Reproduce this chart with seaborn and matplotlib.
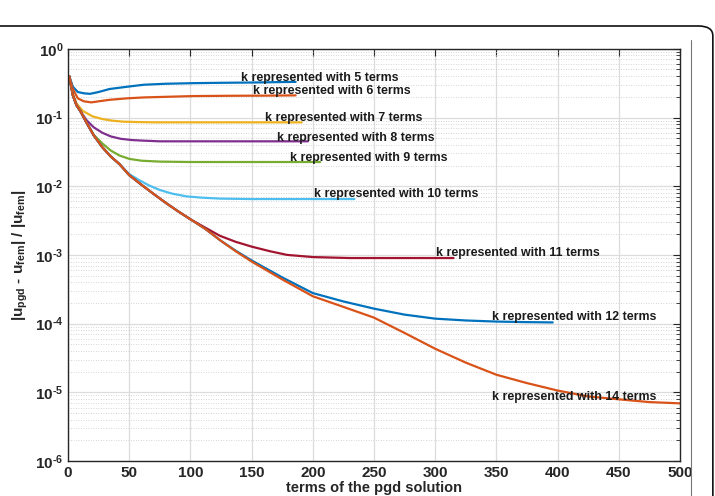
import numpy as np
import pandas as pd
import seaborn as sns
import matplotlib.pyplot as plt
from matplotlib.patches import FancyBboxPatch
from matplotlib.lines import Line2D
import matplotlib.ticker as mticker

# values (x = pgd terms, y = relative error)
x_k5 = [1, 4, 8, 13, 18, 25, 34, 48, 62, 80, 102, 125, 151, 170, 186]
y_k5 = [0.40, 0.28, 0.235, 0.225, 0.221, 0.235, 0.26, 0.28, 0.30, 0.31, 0.316, 0.32, 0.323, 0.327, 0.33]

x_k6 = [1, 4, 8, 13, 19, 25, 34, 48, 62, 80, 102, 130, 160, 186]
y_k6 = [0.40, 0.26, 0.19, 0.172, 0.166, 0.172, 0.181, 0.19, 0.196, 0.2, 0.205, 0.207, 0.208, 0.21]

x_k7 = [1, 4, 7, 12, 20, 28, 36, 45, 55, 70, 90, 120, 160, 191]
y_k7 = [0.40, 0.22, 0.16, 0.125, 0.104, 0.095, 0.09, 0.087, 0.086, 0.085, 0.085, 0.085, 0.085, 0.085]

x_k8 = [1, 4, 7, 10, 15, 21, 28, 35, 43, 52, 62, 75, 100, 140, 196]
y_k8 = [0.40, 0.21, 0.15, 0.125, 0.092, 0.072, 0.06, 0.053, 0.049, 0.047, 0.046, 0.045, 0.045, 0.045, 0.045]

x_k9 = [1, 4, 7, 10, 15, 21, 28, 35, 42, 50, 60, 75, 100, 140, 206]
y_k9 = [0.40, 0.21, 0.15, 0.125, 0.085, 0.056, 0.042, 0.033, 0.028, 0.025, 0.0235, 0.0228, 0.0225, 0.0225, 0.0225]

x_k10 = [1, 4, 7, 10, 15, 21, 28, 35, 42, 50, 58, 66, 75, 85, 97, 110, 124, 150, 190, 234]
y_k10 = [0.40, 0.21, 0.15, 0.125, 0.085, 0.055, 0.037, 0.027, 0.021, 0.015, 0.0123, 0.0103, 0.0088,
         0.0078, 0.0071, 0.0068, 0.0066, 0.0065, 0.0065, 0.0065]

x_k11 = [1, 4, 7, 10, 15, 21, 28, 35, 42, 50, 60, 70, 80, 90, 100, 112, 124, 137, 150, 165, 179,
         200, 230, 270, 315]
y_k11 = [0.40, 0.21, 0.15, 0.125, 0.085, 0.055, 0.037, 0.027, 0.021, 0.0145, 0.0105, 0.0077, 0.0057,
         0.0043, 0.0033, 0.0025, 0.0019, 0.00155, 0.00132, 0.00113, 0.001, 0.00093, 0.0009, 0.0009, 0.0009]

x_k12 = [1, 4, 7, 10, 15, 21, 28, 35, 42, 50, 60, 70, 80, 90, 100, 112, 125, 137, 150, 175, 200,
         225, 250, 275, 300, 325, 350, 375, 396]
y_k12 = [0.40, 0.21, 0.15, 0.125, 0.085, 0.055, 0.037, 0.027, 0.021, 0.0145, 0.0105, 0.0077, 0.0057,
         0.0043, 0.0033, 0.0024, 0.0016, 0.00115, 0.00083, 0.00047, 0.000278, 0.00021, 0.000165,
         0.000135, 0.000118, 0.000111, 0.000107, 0.000105, 0.000104]

x_k14 = [1, 4, 7, 10, 15, 21, 28, 35, 42, 50, 60, 70, 80, 90, 100, 112, 125, 137, 150, 175, 200,
         225, 250, 275, 300, 325, 350, 375, 400, 425, 450, 475, 500]
y_k14 = [0.40, 0.21, 0.15, 0.125, 0.085, 0.055, 0.037, 0.027, 0.021, 0.0145, 0.0105, 0.0077, 0.0057,
         0.0043, 0.0033, 0.0024, 0.0016, 0.00113, 0.0008, 0.00044, 0.00025, 0.000175, 0.000122,
         7.3e-05, 4.3e-05, 2.7e-05, 1.8e-05, 1.36e-05, 1.06e-05, 8.7e-06, 7.9e-06, 7.2e-06, 6.9e-06]

labels = ["k represented with 5 terms", "k represented with 6 terms", "k represented with 7 terms",
          "k represented with 8 terms", "k represented with 9 terms", "k represented with 10 terms",
          "k represented with 11 terms", "k represented with 12 terms", "k represented with 14 terms"]
label_x = [141, 151, 161, 171, 181, 201, 301, 346, 346]
label_y = [0.374, 0.245, 0.1, 0.051, 0.026, 0.0077, 0.00106, 1.25e-4, 8.4e-6]

colors = ["#0072BD", "#D95319", "#EDB120", "#7E2F8E", "#77AC30", "#4DBEEE", "#A2142F",
          "#0072BD", "#D95319"]

series = [(x_k5, y_k5), (x_k6, y_k6), (x_k7, y_k7), (x_k8, y_k8), (x_k9, y_k9),
          (x_k10, y_k10), (x_k11, y_k11), (x_k12, y_k12), (x_k14, y_k14)]

frames = []
for lab, (xs, ys) in zip(labels, series):
    frames.append(pd.DataFrame({"terms": xs, "err": ys, "serie": lab}))
data = pd.concat(frames)

sns.set_style("white")
plt.rcParams['font.family'] = ['Liberation Sans', 'DejaVu Sans']
plt.rcParams['mathtext.fontset'] = 'custom'
plt.rcParams['mathtext.rm'] = 'Liberation Sans:bold'
plt.rcParams['mathtext.bf'] = 'Liberation Sans:bold'
plt.rcParams['mathtext.it'] = 'Liberation Sans:bold'
plt.rcParams['mathtext.default'] = 'bf'

fig = plt.figure(figsize=(7.15, 4.96), dpi=100)
ax = fig.add_axes([0.0951, 0.0706, 0.856, 0.831])

sns.lineplot(data=data, x="terms", y="err", hue="serie", palette=colors, ax=ax,
             estimator=None, sort=False, linewidth=1.6, legend=False)

ax.set_yscale("log")
ax.set_xlim(0, 500)
ax.set_ylim(1e-6, 1)
ax.set_xticks(np.arange(0, 501, 50))
ax.yaxis.set_major_locator(mticker.LogLocator(base=10, numticks=10))
ax.yaxis.set_minor_locator(mticker.LogLocator(base=10, subs=np.arange(2, 10), numticks=20))


def dec_fmt(v, pos):
    e = int(round(np.log10(v)))
    s = str(e).replace("-", "\u2010")
    return r"$10^{%s}$" % s


ax.yaxis.set_major_formatter(mticker.FuncFormatter(dec_fmt))

ax.grid(which="major", axis="both", color="#dcdcdc", linewidth=0.9, linestyle="-")
ax.grid(which="minor", axis="y", color="#c8c8c8", linewidth=0.6, linestyle=(0, (1, 2)))
ax.set_axisbelow(True)

ax.tick_params(which="both", direction="in", top=True, right=True, colors="#262626",
               labelsize=11)
ax.tick_params(which="major", length=5, width=0.8)
ax.tick_params(which="minor", length=3, width=0.6)
for lab in ax.get_xticklabels():
    lab.set_fontweight("bold")
for sp in ax.spines.values():
    sp.set_color("#262626")
    sp.set_linewidth(1.0)

ax.set_xlabel("terms of the pgd solution", fontsize=10.5, fontweight="bold", labelpad=1)
ax.set_ylabel(r"$|u_{pgd}$ - $u_{fem}|$ / $|u_{fem}|$", fontsize=11, fontweight="bold", labelpad=3)

for t, tx, ty in zip(labels, label_x, label_y):
    ax.text(tx, ty, t, fontsize=8.9, fontweight="bold", color="#1a1a1a", va="center", ha="left")

# outer rounded frame and the right separator line
frame = FancyBboxPatch((-0.3, -0.3), 1.297, 1.2476, boxstyle="round,pad=0,rounding_size=0.02",
                       transform=fig.transFigure, fill=False, edgecolor="#111111", linewidth=1.2,
                       clip_on=False)
fig.patches.append(frame)
fig.lines.append(Line2D([0.9664, 0.9664], [0.0, 0.919], transform=fig.transFigure,
                        color="#777777", linewidth=0.8))

plt.savefig("out.png", dpi=100)
